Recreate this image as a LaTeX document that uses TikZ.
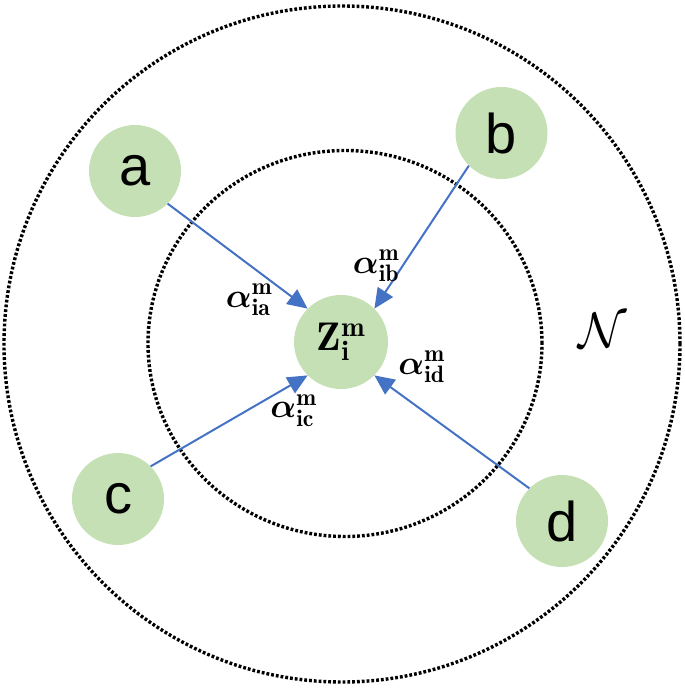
\RequirePackage{fix-cm}
\documentclass[tikz,border=0pt]{standalone}
\usepackage{fontspec}
\usepackage{amsmath,bm}
\newfontfamily\lettersf{Liberation Sans}
\usetikzlibrary{arrows.meta}
\definecolor{nodegreen}{HTML}{C5E0B4}
\definecolor{arrowblue}{HTML}{4472C4}
\begin{document}
\begin{tikzpicture}[x=1pt,y=-1pt,
  vertex/.style={circle,fill=nodegreen,minimum size=92pt,inner sep=0pt,font=\lettersf\fontsize{56}{60}\selectfont},
  ring/.style={draw=black,line width=3.4pt,dash pattern=on 2.8pt off 2pt},
  link/.style={draw=arrowblue,line width=2pt,-{Triangle[length=20pt,width=18pt]}},
  wlabel/.style={font=\fontsize{34}{36}\selectfont,inner sep=0pt}
]
\useasboundingbox (0,0) rectangle (685,688);
\draw[ring] (342,344) circle[radius=338pt];
\draw[ring] (345,343.5) circle[x radius=197pt, y radius=193pt];
\node[vertex] (a) at (135,171) {a};
\node[vertex] (b) at (501.5,133) {b};
\node[vertex] (c) at (118,499) {c};
\node[vertex] (d) at (562,521) {d};
\node[vertex,minimum size=94pt,font=\fontsize{40}{42}\selectfont] (z) at (341,342) {$\mathbf{Z}_{\mathbf{i}}^{\mathbf{m}}$};
\draw[link] (a.south east) -- (z.north west);
\draw[link] (b.south west) -- (z.north east);
\draw[link] (c.north east) -- (z.south west);
\draw[link] (d.north west) -- (z.south east);
\node[wlabel] (lia) at (249,300) {$\bm{\alpha}^{\mathbf{m}}_{\mathbf{ia}}$};
\node[wlabel] (lib) at (376,266) {$\bm{\alpha}^{\mathbf{m}}_{\mathbf{ib}}$};
\node[wlabel] (lic) at (293.5,410.5) {$\bm{\alpha}^{\mathbf{m}}_{\mathbf{ic}}$};
\node[wlabel] (lid) at (421.5,367) {$\bm{\alpha}^{\mathbf{m}}_{\mathbf{id}}$};
\node[font=\fontsize{50}{52}\selectfont] (n) at (603,330) {$\mathcal{N}$};
\end{tikzpicture}
\end{document}
